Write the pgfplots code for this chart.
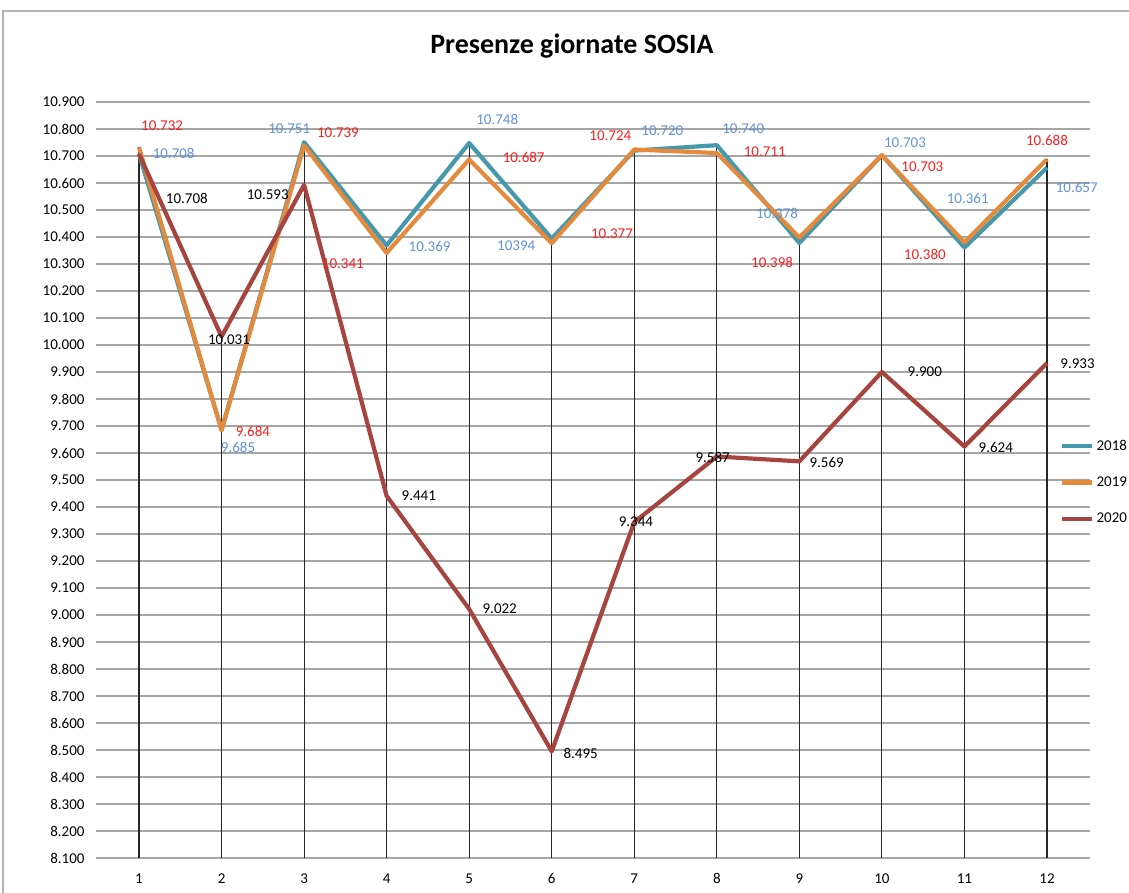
\documentclass[border=0pt]{standalone}
\usepackage{pgfplots}
\pgfplotsset{compat=1.18}
\usepackage{pgfplotstable}
\usepackage{fontspec}
\setmainfont{Carlito}
\definecolor{teal18}{RGB}{70,152,172}
\definecolor{orange19}{RGB}{228,138,60}
\definecolor{red20}{RGB}{166,68,64}
\definecolor{bluelab}{RGB}{96,146,220}
\definecolor{redlab}{RGB}{255,30,30}
\definecolor{gridgray}{RGB}{165,165,165}
\pgfplotstableread{
x y
1 10.708
2 9.685
3 10.751
4 10.369
5 10.748
6 10.394
7 10.720
8 10.740
9 10.378
10 10.703
11 10.361
12 10.657
}\dataA
\pgfplotstableread{
x y
1 10.732
2 9.684
3 10.739
4 10.341
5 10.687
6 10.377
7 10.724
8 10.711
9 10.398
10 10.703
11 10.380
12 10.688
}\dataB
\pgfplotstableread{
x y
1 10.708
2 10.031
3 10.593
4 9.441
5 9.022
6 8.495
7 9.344
8 9.587
9 9.569
10 9.900
11 9.624
12 9.933
}\dataC
\pgfplotstableread{
x y
1 10.732
2 10.031
3 10.751
4 10.369
5 10.748
6 10.394
7 10.724
8 10.740
9 10.398
10 10.703
11 10.380
12 10.688
}\dataMax
\newcommand{\lbl}{\fontsize{15}{17}\selectfont}
\begin{document}
\begin{tikzpicture}[x=1pt,y=1pt]
\useasboundingbox (0,0) rectangle (1129,892);
\draw[gray!60, line width=1.5pt] (3,-10) rectangle (1140,881);
\node[font=\bfseries\fontsize{28}{32}\selectfont] at (572,846) {Presenze giornate SOSIA};
\begin{axis}[
  at={(96pt,34pt)}, anchor=south west,
  scale only axis, width=994pt, height=756pt,
  xmin=0.479, xmax=12.521,
  ymin=8.1, ymax=10.9,
  xtick={1,...,12},
  ytick={8.1,8.2,...,10.95},
  axis line style={draw=none},
  major tick length=0pt,
  ymajorgrids, grid style={gridgray, line width=2pt},
  clip mode=individual,
  /pgf/number format/assume math mode=true,
  tick label style={font=\fontsize{15}{17}\selectfont},
  yticklabel={\pgfmathprintnumber[fixed, fixed zerofill, precision=3]{\tick}},
  yticklabel style={anchor=east, xshift=-8pt},
  xticklabel style={anchor=north, yshift=-12pt},
  legend style={at={(0.97,0.497)}, anchor=west, draw=none, fill=none,
    font=\fontsize{15}{17}\selectfont, row sep=25pt, inner sep=0pt,
    nodes={inner xsep=2pt, inner ysep=0pt}},
  legend cell align=left,
  legend image code/.code={\draw[#1] (0pt,0pt) -- (30pt,0pt);},
]
\addplot[ycomb, black!85, line width=1.1pt, forget plot] table[x=x,y=y] {\dataMax};
\addplot[teal18, line width=4.2pt, line join=round] table[x=x,y=y] {\dataA};
\addlegendentry{2018}
\addplot[orange19, line width=4.2pt, line join=round] table[x=x,y=y] {\dataB};
\addlegendentry{2019}
\addplot[red20, line width=4.2pt, line join=round] table[x=x,y=y] {\dataC};
\addlegendentry{2020}
% 2018 labels
\begin{scope}[every node/.style={text=bluelab, font=\lbl, inner sep=0pt}]
\node at (axis cs:1.42,10.711) {10.708};
\node at (axis cs:2.20,9.622) {9.685};
\node at (axis cs:2.82,10.800) {10.751};
\node at (axis cs:4.52,10.363) {10.369};
\node at (axis cs:5.34,10.837) {10.748};
\node at (axis cs:5.57,10.367) {10394};
\node at (axis cs:7.34,10.793) {10.720};
\node at (axis cs:8.32,10.800) {10.740};
\node at (axis cs:8.73,10.489) {10.378};
\node at (axis cs:10.28,10.748) {10.703};
\node at (axis cs:11.04,10.544) {10.361};
\node at (axis cs:12.36,10.585) {10.657};
\end{scope}
% 2019 labels
\begin{scope}[every node/.style={text=redlab, font=\lbl, inner sep=0pt}]
\node at (axis cs:1.28,10.811) {10.732};
\node at (axis cs:2.38,9.681) {9.684};
\node at (axis cs:3.41,10.785) {10.739};
\node at (axis cs:3.47,10.300) {10.341};
\node at (axis cs:5.66,10.693) {10.687};
\node at (axis cs:6.73,10.411) {10.377};
\node at (axis cs:6.71,10.774) {10.724};
\node at (axis cs:8.58,10.715) {10.711};
\node at (axis cs:8.67,10.304) {10.398};
\node at (axis cs:10.49,10.659) {10.703};
\node at (axis cs:10.52,10.337) {10.380};
\node at (axis cs:12.00,10.756) {10.688};
\end{scope}
% 2020 labels
\begin{scope}[every node/.style={text=black, font=\lbl, inner sep=0pt}]
\node at (axis cs:1.58,10.544) {10.708};
\node at (axis cs:2.09,10.019) {10.031};
\node at (axis cs:2.56,10.556) {10.593};
\node at (axis cs:4.39,9.441) {9.441};
\node at (axis cs:5.37,9.022) {9.022};
\node at (axis cs:6.35,8.489) {8.495};
\node at (axis cs:7.02,9.344) {9.344};
\node at (axis cs:7.95,9.585) {9.587};
\node at (axis cs:9.33,9.563) {9.569};
\node at (axis cs:10.52,9.900) {9.900};
\node at (axis cs:11.38,9.622) {9.624};
\node at (axis cs:12.37,9.930) {9.933};
\end{scope}
\end{axis}
\end{tikzpicture}
\end{document}
